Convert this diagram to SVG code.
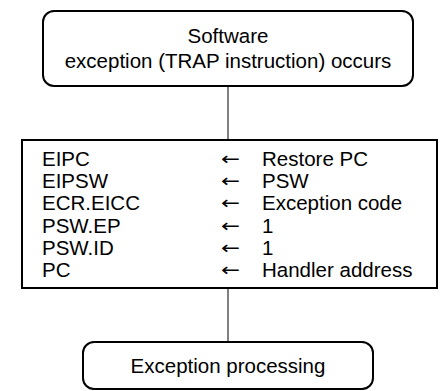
<svg xmlns="http://www.w3.org/2000/svg" width="440" height="391" viewBox="0 0 440 391">
<style>
.box{fill:#fff;stroke:#000;stroke-width:2}
.t{font-family:"Liberation Sans",Arial,sans-serif;font-size:20.5px;fill:#000}
.c{text-anchor:middle}
.arr{font-family:"DejaVu Sans",sans-serif;font-size:18px;fill:#000}
.ln{stroke:#000;stroke-width:1;fill:none}
</style>
<rect width="440" height="391" fill="#fff"/>
<g id="connectors">
<line class="ln" x1="228" y1="87" x2="228" y2="140"/>
<line class="ln" x1="228" y1="288" x2="228" y2="342"/>
</g>
<g id="start">
<rect class="box" x="43" y="11" width="370" height="75" rx="11"/>
<text class="t c" x="228" y="43">Software</text>
<text class="t c" x="228" y="68">exception (TRAP instruction) occurs</text>
</g>
<g id="assign">
<rect class="box" x="22" y="140" width="415" height="148"/>
<text class="t" x="42" y="166">EIPC</text>
<text class="t" x="42" y="188">EIPSW</text>
<text class="t" x="42" y="210">ECR.EICC</text>
<text class="t" x="42" y="233">PSW.EP</text>
<text class="t" x="42" y="255">PSW.ID</text>
<text class="t" x="42" y="277">PC</text>
<text class="arr" x="221" y="165" textLength="19" lengthAdjust="spacingAndGlyphs">←</text>
<text class="arr" x="221" y="187" textLength="19" lengthAdjust="spacingAndGlyphs">←</text>
<text class="arr" x="221" y="209" textLength="19" lengthAdjust="spacingAndGlyphs">←</text>
<text class="arr" x="221" y="232" textLength="19" lengthAdjust="spacingAndGlyphs">←</text>
<text class="arr" x="221" y="254" textLength="19" lengthAdjust="spacingAndGlyphs">←</text>
<text class="arr" x="221" y="276" textLength="19" lengthAdjust="spacingAndGlyphs">←</text>
<text class="t" x="262" y="166">Restore PC</text>
<text class="t" x="262" y="188">PSW</text>
<text class="t" x="262" y="210">Exception code</text>
<text class="t" x="262" y="233">1</text>
<text class="t" x="262" y="255">1</text>
<text class="t" x="262" y="277">Handler address</text>
</g>
<g id="process">
<rect class="box" x="83" y="342" width="290" height="47" rx="11"/>
<text class="t c" x="228" y="373">Exception processing</text>
</g>
</svg>
